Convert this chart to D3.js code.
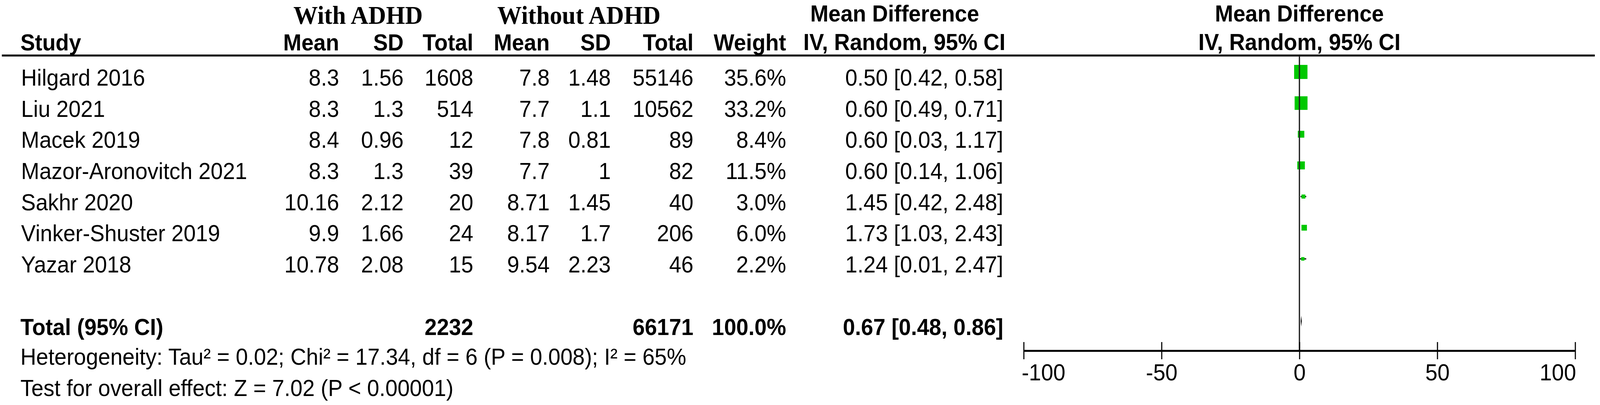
<!DOCTYPE html>
<html>
<head>
<meta charset="utf-8">
<script src="https://cdn.jsdelivr.net/npm/d3@7"></script>
<style>
  html, body { margin: 0; padding: 0; background: #fff; overflow: hidden; }
  svg { display: block; }
  text { font-family: "Liberation Sans", Arial, sans-serif; font-size: 59px; fill: #000; }
  .bold { font-weight: bold; }
  .serif { font-family: "Liberation Serif", "Times New Roman", serif; font-size: 66px; font-weight: bold; }
</style>
</head>
<body>
<svg id="chart" viewBox="0 0 4317 1036" preserveAspectRatio="none"></svg>
<script>
const studies = ["Hilgard 2016", "Liu 2021", "Macek 2019", "Mazor-Aronovitch 2021", "Sakhr 2020", "Vinker-Shuster 2019", "Yazar 2018"];
const meanADHD = ["8.3", "8.3", "8.4", "8.3", "10.16", "9.9", "10.78"];
const sdADHD = ["1.56", "1.3", "0.96", "1.3", "2.12", "1.66", "2.08"];
const nADHD = [1608, 514, 12, 39, 20, 24, 15];
const meanCtrl = ["7.8", "7.7", "7.8", "7.7", "8.71", "8.17", "9.54"];
const sdCtrl = ["1.48", "1.1", "0.81", "1", "1.45", "1.7", "2.23"];
const nCtrl = [55146, 10562, 89, 82, 40, 206, 46];
const weights = [35.6, 33.2, 8.4, 11.5, 3.0, 6.0, 2.2];
const md = [0.50, 0.60, 0.60, 0.60, 1.45, 1.73, 1.24];
const ciLow = [0.42, 0.49, 0.03, 0.14, 0.42, 1.03, 0.01];
const ciHigh = [0.58, 0.71, 1.17, 1.06, 2.48, 2.43, 2.47];

const totalADHD = 2232, totalCtrl = 66171, totalWeight = 100.0;
const totalMD = 0.67, totalLow = 0.48, totalHigh = 0.86;
const heterogeneity = "Heterogeneity: Tau² = 0.02; Chi² = 17.34, df = 6 (P = 0.008); I² = 65%";
const overallEffect = "Test for overall effect: Z = 7.02 (P < 0.00001)";
const axisTicks = [-100, -50, 0, 50, 100];

// fit the 4317x1036 drawing to whatever the window gives us
const svg = d3.select("#chart")
  .attr("width", window.innerWidth)
  .attr("height", window.innerHeight);
const green = "#00c800";

// row baselines: 0..6 studies, 8 total, 9-10 footer lines
const rowY = d3.scaleLinear().domain([0, 1]).range([219, 298.7]);
const x = d3.scaleLinear().domain([-100, 100]).range([2762, 4250]);
const boxSize = d3.scaleSqrt().domain([0, 35.6]).range([0, 36]);

// column right edges
const cols = [
  {key: "mean1", right: 915, head: "Mean", vals: meanADHD},
  {key: "sd1", right: 1089, head: "SD", vals: sdADHD},
  {key: "n1", right: 1277, head: "Total", vals: nADHD},
  {key: "mean2", right: 1483, head: "Mean", vals: meanCtrl},
  {key: "sd2", right: 1648, head: "SD", vals: sdCtrl},
  {key: "n2", right: 1871, head: "Total", vals: nCtrl},
  {key: "w", right: 2121, head: "Weight", vals: weights.map(w => w.toFixed(1) + "%")},
  {key: "ci", right: 2707, head: null, vals: md.map((m, i) => `${m.toFixed(2)} [${ciLow[i].toFixed(2)}, ${ciHigh[i].toFixed(2)}]`)}
];

// group headers
svg.append("text").attr("class", "serif").attr("x", 966).attr("y", 61).attr("text-anchor", "middle").text("With ADHD");
svg.append("text").attr("class", "serif").attr("x", 1562).attr("y", 61).attr("text-anchor", "middle").text("Without ADHD");
svg.append("text").attr("class", "bold").attr("x", 2414).attr("y", 55).attr("text-anchor", "middle").text("Mean Difference");
svg.append("text").attr("class", "bold").attr("x", 2440).attr("y", 128).attr("text-anchor", "middle").text("IV, Random, 95% CI");
svg.append("text").attr("class", "bold").attr("x", x(0)).attr("y", 55).attr("text-anchor", "middle").text("Mean Difference");
svg.append("text").attr("class", "bold").attr("x", x(0)).attr("y", 128).attr("text-anchor", "middle").text("IV, Random, 95% CI");

svg.append("text").attr("class", "bold").attr("x", 55).attr("y", 129).text("Study");
cols.filter(c => c.head).forEach(c => {
  svg.append("text").attr("class", "bold").attr("x", c.right).attr("y", 129)
    .attr("text-anchor", "end").text(c.head);
});

// header rule
svg.append("line").attr("x1", 5).attr("x2", 4303).attr("y1", 142).attr("y2", 142)
  .attr("stroke", "#000").attr("stroke-width", 5);

// study rows
svg.selectAll(".study").data(studies).join("text")
  .attr("class", "study").attr("x", 57).attr("y", (d, i) => rowY(i)).text(d => d);

cols.forEach(c => {
  svg.selectAll(".c-" + c.key).data(c.vals).join("text")
    .attr("class", "c-" + c.key)
    .attr("x", c.right).attr("y", (d, i) => rowY(i))
    .attr("text-anchor", "end").text(d => d);
});

// total row
const totalRow = [
  {x: 1277, t: String(totalADHD)},
  {x: 1871, t: String(totalCtrl)},
  {x: 2121, t: totalWeight.toFixed(1) + "%"},
  {x: 2707, t: `${totalMD.toFixed(2)} [${totalLow.toFixed(2)}, ${totalHigh.toFixed(2)}]`}
];
svg.append("text").attr("class", "bold").attr("x", 55).attr("y", rowY(8)).text("Total (95% CI)");
svg.selectAll(".tot").data(totalRow).join("text")
  .attr("class", "tot bold").attr("x", d => d.x).attr("y", rowY(8))
  .attr("text-anchor", "end").text(d => d.t);

svg.append("text").attr("x", 55).attr("y", rowY(9) - 3).text(heterogeneity);
svg.append("text").attr("x", 55).attr("y", rowY(10) - 3).text(overallEffect);

// forest plot
const plot = svg.append("g");
const markY = i => rowY(i) - 35;

plot.selectAll(".ci").data(studies).join("line")
  .attr("class", "ci")
  .attr("x1", (d, i) => x(ciLow[i])).attr("x2", (d, i) => x(ciHigh[i]))
  .attr("y1", (d, i) => markY(i)).attr("y2", (d, i) => markY(i))
  .attr("stroke", "#000").attr("stroke-width", 3);

plot.selectAll(".box").data(studies).join("rect")
  .attr("class", "box")
  .attr("x", (d, i) => x(md[i]) - boxSize(weights[i]) / 2)
  .attr("y", (d, i) => markY(i) - boxSize(weights[i]) / 2)
  .attr("width", (d, i) => boxSize(weights[i]))
  .attr("height", (d, i) => boxSize(weights[i]))
  .attr("fill", green);

// pooled diamond
const dy = markY(8);
plot.append("path")
  .attr("d", `M${x(totalLow)},${dy} L${x(totalMD)},${dy - 14} L${x(totalHigh)},${dy} L${x(totalMD)},${dy + 14} Z`)
  .attr("fill", "#000");

// line of no effect
const axisY = 897;
plot.append("line")
  .attr("x1", x(0)).attr("x2", x(0)).attr("y1", 142).attr("y2", axisY)
  .attr("stroke", "#222").attr("stroke-width", 3.5);

// x axis
const axis = plot.append("g").attr("transform", `translate(0,${axisY})`)
  .call(d3.axisBottom(x).tickValues(axisTicks).tickSizeOuter(0).tickFormat(d => String(d)));
axis.select(".domain").attr("stroke", "#000").attr("stroke-width", 5);
axis.selectAll(".tick line").attr("y1", -22).attr("y2", 22).attr("stroke", "#000").attr("stroke-width", 3);
axis.selectAll(".tick text")
  .attr("y", 76).attr("dy", 0)
  .style("font-family", "'Liberation Sans', Arial, sans-serif")
  .style("font-size", "59px").attr("fill", "#000")
  .attr("text-anchor", (d, i) => i === 0 ? "start" : (i === axisTicks.length - 1 ? "end" : "middle"))
  .attr("x", (d, i) => i === 0 ? -6 : (i === axisTicks.length - 1 ? 2 : 0));
</script>
</body>
</html>
